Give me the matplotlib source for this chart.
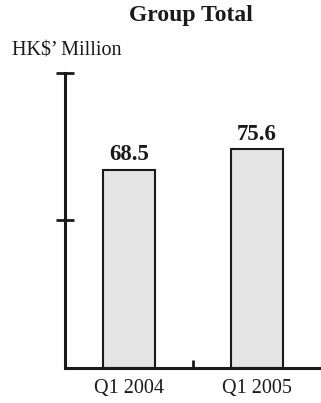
import matplotlib
matplotlib.use("Agg")
import matplotlib.pyplot as plt

periods = ["Q1 2004", "Q1 2005"]
revenue = [68.5, 75.6]
value_labels = ["68.5", "75.6"]

plt.rcParams["font.family"] = ["Liberation Serif", "DejaVu Serif"]
ink = "#1a1a1a"

fig = plt.figure(figsize=(3.21, 4.03), dpi=100)
ax = fig.add_axes([0.2025, 0.087, 0.7975, 0.732])

x = list(range(len(periods)))
bars = ax.bar(x, revenue, width=0.4, color="#e5e5e5", edgecolor=ink, linewidth=1.5)

for rect, txt in zip(bars, value_labels):
    ax.annotate(txt, (rect.get_x() + rect.get_width() / 2, rect.get_height()),
                xytext=(0, 7), textcoords="offset points", ha="center", va="baseline",
                fontsize=16.5, fontweight="bold", color=ink)

ax.set_xlim(-0.5, 1.5)
ax.set_ylim(0, 102)

for side in ("top", "right"):
    ax.spines[side].set_visible(False)
for side in ("left", "bottom"):
    ax.spines[side].set_linewidth(2.2)
    ax.spines[side].set_color(ink)

ax.set_xticks(x)
ax.set_xticklabels(periods, fontsize=14.5, color=ink)
ax.tick_params(axis="x", which="major", length=0, pad=8)
ax.set_xticks([0.5], minor=True)
ax.tick_params(axis="x", which="minor", direction="in", length=6, width=2, color=ink)

ax.set_yticks([51, 102])
ax.set_yticklabels([])
ax.tick_params(axis="y", which="major", direction="inout", length=13, width=2, color=ink)

fig.text(0.595, 0.962, "Group Total", ha="center", va="center",
         fontsize=17, fontweight="bold", color=ink)
fig.text(0.036, 0.873, "HK$\u2019 Million", ha="left", va="center",
         fontsize=14.5, color=ink)

fig.savefig("out.png", dpi=100)
